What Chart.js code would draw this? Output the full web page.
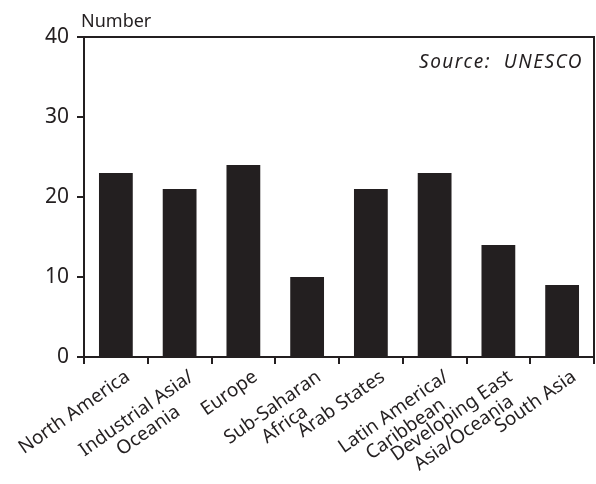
<!DOCTYPE html>
<html>
<head>
<meta charset="utf-8">
<script src="https://cdn.jsdelivr.net/npm/chart.js@4"></script>
<style>
  html, body { margin: 0; padding: 0; background: #fff; }
  canvas { display: block; }
</style>
</head>
<body>
<canvas id="myChart" width="596" height="484"></canvas>
<script>
const regions = [
  "North America",
  ["Industrial Asia/", "Oceania"],
  "Europe",
  ["Sub-Saharan", "Africa"],
  "Arab States",
  ["Latin America/", "Caribbean"],
  ["Developing East", "Asia/Oceania"],
  "South Asia",
];
const counts = [23, 21, 24, 10, 21, 23, 14, 9];
const yTicks = [0, 10, 20, 30, 40];

const ink = "#231f20";
const fontFamily = "'Noto Sans', sans-serif";
const labelAngle = 35 * Math.PI / 180;

// box around the plot plus the axis caption and source note
const frame = {
  id: "frame",
  afterDraw(chart) {
    const { ctx, chartArea: a } = chart;
    ctx.save();
    ctx.strokeStyle = ink;
    ctx.lineWidth = 2;
    ctx.beginPath();
    ctx.moveTo(a.left, a.top);
    ctx.lineTo(a.right, a.top);
    ctx.lineTo(a.right, a.bottom);
    ctx.stroke();

    ctx.fillStyle = ink;
    ctx.textBaseline = "alphabetic";
    ctx.textAlign = "left";
    ctx.font = "18px " + fontFamily;
    ctx.fillText("Number", a.left - 3, 27);

    ctx.textAlign = "right";
    ctx.font = "italic 19px " + fontFamily;
    ctx.letterSpacing = "1.5px";
    ctx.fillText("Source:  UNESCO", a.right - 11, 68);
    ctx.restore();
  },
};

// slanted category names; the lines of a two-line name are centred on each other
const slantedLabels = {
  id: "slantedLabels",
  afterDraw(chart) {
    const { ctx } = chart;
    const xs = chart.scales.x;
    const base = chart.chartArea.bottom;
    ctx.save();
    ctx.fillStyle = ink;
    ctx.font = "19px " + fontFamily;
    ctx.textBaseline = "middle";
    ctx.textAlign = "center";
    regions.forEach((label, i) => {
      const lines = Array.isArray(label) ? label : [label];
      const widest = Math.max(...lines.map((l) => ctx.measureText(l).width));
      const x = xs.getPixelForValue(i);
      ctx.save();
      ctx.translate(x + 12, base + 18);
      ctx.rotate(-labelAngle);
      lines.forEach((l, j) => {
        ctx.fillText(l, -widest / 2, j * 21);
      });
      ctx.restore();
    });
    ctx.restore();
  },
};

const ctx = document.getElementById("myChart").getContext("2d");
const myChart = new Chart(ctx, {
  type: "bar",
  data: {
    labels: regions,
    datasets: [
      {
        data: counts,
        backgroundColor: ink,
        borderWidth: 0,
        categoryPercentage: 1,
        barPercentage: 0.53,
      },
    ],
  },
  options: {
    responsive: false,
    animation: false,
    layout: { padding: { top: 37, right: 2, left: 0, bottom: 0 } },
    plugins: {
      legend: { display: false },
      tooltip: { enabled: false },
    },
    scales: {
      x: {
        afterFit: (scale) => { scale.height = 127; },
        grid: {
          offset: true,
          drawOnChartArea: false,
          drawTicks: true,
          tickLength: 7,
          color: ink,
          lineWidth: 2,
        },
        border: { color: ink, width: 2 },
        ticks: { display: false, autoSkip: false },
      },
      y: {
        min: 0,
        max: 40,
        afterFit: (scale) => { scale.width = 84; },
        afterBuildTicks: (scale) => {
          scale.ticks = yTicks.map((v) => ({ value: v }));
        },
        grid: {
          drawOnChartArea: false,
          drawTicks: true,
          tickLength: 7,
          color: ink,
          lineWidth: 2,
        },
        border: { color: ink, width: 2 },
        ticks: {
          color: ink,
          font: { family: fontFamily, size: 21 },
          padding: 8,
        },
      },
    },
  },
  plugins: [frame, slantedLabels],
});
</script>
</body>
</html>
